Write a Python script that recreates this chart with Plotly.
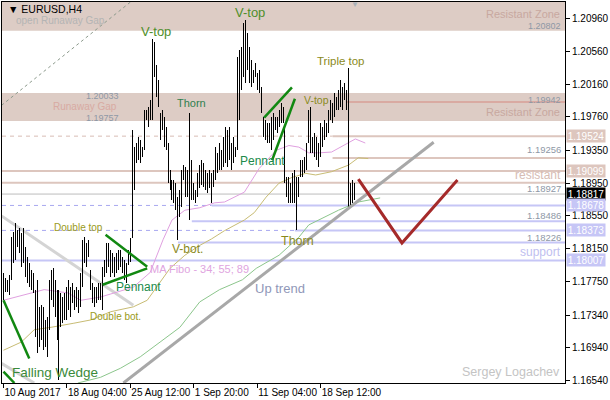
import plotly.graph_objects as go

# ---------------- data (EURUSD H4) ----------------
bar_high = [1.1785, 1.1779, 1.1777, 1.1783, 1.1829, 1.1835, 1.1846, 1.1838, 1.1840, 1.1834,
            1.1840, 1.1817, 1.1805, 1.1797, 1.1789, 1.1785, 1.1765, 1.1777, 1.1744, 1.1746,
            1.1744, 1.1728, 1.1732, 1.1777, 1.1789, 1.1791, 1.1777, 1.1765, 1.1765, 1.1761,
            1.1756, 1.1761, 1.1768, 1.1777, 1.1768, 1.1773, 1.1765, 1.1768, 1.1765, 1.1785,
            1.1826, 1.1829, 1.1822, 1.1826, 1.1789, 1.1773, 1.1768, 1.1768, 1.1773, 1.1773,
            1.1793, 1.1801, 1.1822, 1.1822, 1.1813, 1.1810, 1.1805, 1.1810, 1.1813, 1.1813,
            1.1805, 1.1801, 1.1797, 1.1813, 1.1828, 1.1960, 1.1939, 1.1944, 1.1951, 1.1948,
            1.1939, 1.1984, 1.1984, 1.1988, 1.1997, 1.2071, 1.2067, 1.2039, 1.2021, 1.1981,
            1.1984, 1.1976, 1.1964, 1.1944, 1.1911, 1.1899, 1.1899, 1.1895, 1.1878, 1.1887,
            1.1911, 1.1917, 1.1915, 1.1911, 1.1981, 1.1923, 1.1895, 1.1887, 1.1907, 1.1917,
            1.1923, 1.1920, 1.1911, 1.1907, 1.1911, 1.1907, 1.1911, 1.1939, 1.1932, 1.1944,
            1.1935, 1.1951, 1.1964, 1.1960, 1.1964, 1.1944, 1.1951, 1.1939, 1.2049, 1.2058,
            1.2061, 1.2091, 1.2094, 1.2078, 1.2061, 1.2045, 1.2033, 1.2042, 1.2029, 1.2033,
            1.2012, 1.1976, 1.1972, 1.1968, 1.1968, 1.1976, 1.1981, 1.1976, 1.1976, 1.1984,
            1.1993, 1.1988, 1.1964, 1.1902, 1.1902, 1.1895, 1.1907, 1.1911, 1.1902, 1.1902,
            1.1923, 1.1923, 1.1927, 1.1944, 1.1984, 1.1988, 1.1951, 1.1956, 1.1951, 1.1944,
            1.1968, 1.1964, 1.1972, 1.1968, 1.1984, 1.1997, 1.1993, 1.2005, 1.2000, 1.2009,
            1.2021, 1.2012, 1.2017, 1.2009, 1.2036, 1.1895, 1.1899, 1.1895]
bar_low = [1.1752, 1.1762, 1.1762, 1.1758, 1.1777, 1.1797, 1.1801, 1.1817, 1.1810, 1.1793,
           1.1797, 1.1780, 1.1773, 1.1768, 1.1765, 1.1761, 1.1707, 1.1688, 1.1695, 1.1703,
           1.1691, 1.1695, 1.1683, 1.1716, 1.1752, 1.1744, 1.1732, 1.1703, 1.1655, 1.1719,
           1.1724, 1.1728, 1.1728, 1.1740, 1.1732, 1.1749, 1.1740, 1.1744, 1.1736, 1.1744,
           1.1768, 1.1797, 1.1793, 1.1805, 1.1765, 1.1749, 1.1744, 1.1749, 1.1752, 1.1752,
           1.1740, 1.1780, 1.1785, 1.1793, 1.1780, 1.1785, 1.1780, 1.1785, 1.1789, 1.1793,
           1.1785, 1.1777, 1.1773, 1.1795, 1.1799, 1.1828, 1.1887, 1.1920, 1.1923, 1.1920,
           1.1927, 1.1935, 1.1972, 1.1964, 1.1972, 1.1972, 1.2025, 1.2000, 1.1988, 1.1948,
           1.1960, 1.1939, 1.1935, 1.1895, 1.1887, 1.1874, 1.1871, 1.1862, 1.1826, 1.1854,
           1.1866, 1.1899, 1.1878, 1.1878, 1.1850, 1.1874, 1.1874, 1.1871, 1.1878, 1.1889,
           1.1893, 1.1890, 1.1887, 1.1883, 1.1889, 1.1871, 1.1890, 1.1899, 1.1907, 1.1911,
           1.1911, 1.1915, 1.1920, 1.1915, 1.1923, 1.1911, 1.1920, 1.1927, 1.1935, 1.1972,
           1.2009, 1.2025, 1.2017, 1.2033, 1.2017, 1.2012, 1.2017, 1.2025, 1.2009, 1.2005,
           1.1981, 1.1951, 1.1948, 1.1944, 1.1944, 1.1935, 1.1948, 1.1960, 1.1956, 1.1964,
           1.1968, 1.1968, 1.1895, 1.1878, 1.1871, 1.1871, 1.1871, 1.1871, 1.1838, 1.1878,
           1.1902, 1.1902, 1.1907, 1.1911, 1.1944, 1.1932, 1.1932, 1.1927, 1.1923, 1.1915,
           1.1927, 1.1939, 1.1948, 1.1951, 1.1956, 1.1972, 1.1968, 1.1976, 1.1984, 1.1984,
           1.1988, 1.1984, 1.1997, 1.1984, 1.1866, 1.1866, 1.1871, 1.1874]

tick_bars = [0, 32, 64, 96, 128, 160]
tick_labels = ["10 Aug 2017", "18 Aug 04:00", "25 Aug 12:00", "1 Sep 20:00", "11 Sep 04:00", "18 Sep 12:00"]
price_ticks = [1.20960, 1.20560, 1.20160, 1.19760, 1.19350, 1.18950,
               1.18550, 1.18150, 1.17750, 1.17340, 1.16940, 1.16540]

# moving averages (MA Fibo 34; 55; 89)
ma34_bar = [0, 9, 20.5, 32.5, 39, 49, 57.5, 65.5, 74, 80.5, 85, 91.5, 99, 106.5, 111.5, 121.5,
            129, 137.5, 144, 149, 154, 159, 165.5, 171.5, 177.5, 182.5]
ma34_val = [1.1752, 1.1758, 1.1765, 1.1761, 1.1752, 1.1756, 1.1762, 1.1768, 1.1786, 1.1826, 1.1850,
            1.1862, 1.1865, 1.1871, 1.1872, 1.1884, 1.1913, 1.1935, 1.1941, 1.1939, 1.1932, 1.1932,
            1.1933, 1.1941, 1.1949, 1.1944]
ma55_bar = [0, 9, 15.5, 24, 35.5, 44, 54, 65.5, 72.5, 80.5, 84, 91.5, 99, 105, 111.5, 121.5,
            126.5, 132.5, 139, 145.5, 152.5, 157.5, 165.5, 174, 179, 184]
ma55_val = [1.1691, 1.1701, 1.1716, 1.1719, 1.1724, 1.1728, 1.1738, 1.1744, 1.1752, 1.1780, 1.1791,
            1.1807, 1.1819, 1.1827, 1.1837, 1.1850, 1.1859, 1.1878, 1.1895, 1.1902, 1.1907, 1.1905,
            1.1909, 1.1917, 1.1926, 1.1925]
ma89_bar = [37.5, 49, 59, 69, 79, 89, 99, 109, 120.5, 127.5, 139, 149, 154, 169, 179, 190]
ma89_val = [1.1651, 1.1658, 1.1669, 1.1683, 1.1701, 1.1719, 1.1750, 1.1765, 1.1777, 1.1791,
            1.1807, 1.1829, 1.1844, 1.1862, 1.1872, 1.1877]

# analyst objects (bar index, price)
uptrend_bar = [60.5, 217]
uptrend_val = [1.1651, 1.1945]
channel_bar = [-1, 65.5]
channel_val = [1.1855, 1.1746]
channel2_bar = [-1, 15.5]
channel2_val = [1.1675, 1.1651]
gapline_bar = [-1, 64.5]
gapline_val = [1.1990, 1.2117]
wedge1_bar = [0, 13]
wedge1_val = [1.1752, 1.1681]
wedge2_bar = [0, 5.5]
wedge2_val = [1.1665, 1.1651]
pen1a_bar = [51.5, 72.5]
pen1a_val = [1.1832, 1.1793]
pen1b_bar = [50, 72.5]
pen1b_val = [1.1771, 1.1791]
pen2a_bar = [131.5, 145.5]
pen2a_val = [1.1975, 1.2012]
pen2b_bar = [135.5, 147]
pen2b_val = [1.1923, 1.1998]
forecast_bar = [179, 201, 229]
forecast_val = [1.1900, 1.1822, 1.1899]

res_levels = [1.19524, 1.19256, 1.19099, 1.18955]
res_solid_from = [166, 166, -1, -1]
res_dashed = [True, False, False, False]
sup_levels = [1.18678, 1.18486, 1.18373, 1.18226, 1.18007]
sup_solid_from = [105, 95, 147, 88, -1]
sup_dashed = [True, False, True, False, False]
bid_price = 1.18817
gap_mid_level = 1.19942
gap_mid_from = 173
zone_top = [1.2081, 1.2117]
zone_gap = [1.1971, 1.2005]

box_levels = [1.19524, 1.19099, 1.18817, 1.18678, 1.18373, 1.18007]

# ---------------- figure ----------------
XR = [-0.75, 283.25]
YR = [1.16510, 1.21162]
W, H = 610, 400
L, R, T, B = 1, 41, 2, 17
PW, PH = W - L - R, H - T - B

ROSE = "#ddc6be"
LAV = "#c6c6f6"
BAND = "#ddccc5"
FONT = "Liberation Sans"


def pp(x, y):
    return dict(xref="paper", yref="paper", x=(x - L) / PW, y=(H - B - y) / PH)


fig = go.Figure()
shapes = []
for lo, hi in (zone_top, zone_gap):
    shapes.append(dict(type="rect", xref="x", yref="y", x0=XR[0], x1=XR[1], y0=lo, y1=hi,
                       fillcolor=BAND, line_width=0, layer="below"))
shapes.append(dict(type="line", xref="x", yref="y", x0=gap_mid_from, x1=XR[1], y0=gap_mid_level,
                   y1=gap_mid_level, line=dict(color="#d9aaa2", width=2), layer="below"))
for lev, s, d in zip(res_levels, res_solid_from, res_dashed):
    if d:
        shapes.append(dict(type="line", xref="x", yref="y", x0=XR[0], x1=s, y0=lev, y1=lev,
                           line=dict(color="#d8bcb4", width=1, dash="4px,4px"), layer="below"))
    shapes.append(dict(type="line", xref="x", yref="y", x0=max(s, XR[0]), x1=XR[1], y0=lev, y1=lev,
                       line=dict(color=ROSE, width=2), layer="below"))
for lev, s, d in zip(sup_levels, sup_solid_from, sup_dashed):
    if d:
        shapes.append(dict(type="line", xref="x", yref="y", x0=XR[0], x1=s, y0=lev, y1=lev,
                           line=dict(color="#a8a8f0", width=1, dash="4px,4px"), layer="below"))
    shapes.append(dict(type="line", xref="x", yref="y", x0=max(s, XR[0]), x1=XR[1], y0=lev, y1=lev,
                       line=dict(color=LAV, width=2), layer="below"))
shapes.append(dict(type="line", xref="x", yref="y", x0=XR[0], x1=XR[1], y0=bid_price, y1=bid_price,
                   line=dict(color="#bcbcbc", width=1), layer="below"))


def line(xs, ys, color, width, dash=None):
    fig.add_trace(go.Scatter(x=xs, y=ys, mode="lines", hoverinfo="skip", showlegend=False,
                             line=dict(color=color, width=width, dash=dash)))


line(gapline_bar, gapline_val, "#8c9a8c", 1, "3px,3px")
line(channel_bar, channel_val, "#d4d4d4", 3)
line(channel2_bar, channel2_val, "#d4d4d4", 3)

# MAs
line(ma89_bar, ma89_val, "#8cc68c", 1)
line(ma55_bar, ma55_val, "#c8bc74", 1)
line(ma34_bar, ma34_val, "#e0a0e0", 1)

# bars (high-low)
bx, by = [], []
for i, (h, l) in enumerate(zip(bar_high, bar_low)):
    bx += [i, i, None]
    by += [l, h, None]
fig.add_trace(go.Scatter(x=bx, y=by, mode="lines", line=dict(color="black", width=1),
                         hoverinfo="skip", showlegend=False))

line(uptrend_bar, uptrend_val, "#a8a8a8", 3)
for xs, ys in ((wedge1_bar, wedge1_val), (wedge2_bar, wedge2_val), (pen1a_bar, pen1a_val),
               (pen1b_bar, pen1b_val), (pen2a_bar, pen2a_val), (pen2b_bar, pen2b_val)):
    line(xs, ys, "#118811", 2.5)
line(forecast_bar, forecast_val, "#a52a2a", 3)

ann = []


def text(t, x, y, size, color, anchor="center"):
    d = pp(x, y)
    d.update(text=t, showarrow=False, xanchor=anchor, yanchor="middle",
             font=dict(family=FONT, size=size, color=color))
    ann.append(d)


GR = "#4f8f2a"
OL = "#8a8a1c"
GY = "#8e98a6"
ZN = "#c8a8a0"
text("▼ EURUSD,H4", 5, 9, 10.5, "black", "left")
text("open Runaway Gap", 13, 21, 10, "#b4b4b4", "left")
text("V-top", 156, 31, 13, GR)
text("V-top", 251, 12, 13, GR)
text("Thorn", 192, 103, 11, "#2f7f4f")
text("Triple top", 343, 61, 11.5, OL)
text("V-top", 318, 100, 10.5, OL)
text("Pennant", 264, 161, 12, "#208a4a")
text("Thorn", 299, 241, 12.5, OL)
text("V-bot.", 188, 249, 12, OL)
text("Double top", 78, 227, 10, "#9a9a20")
text("Pennant", 139, 287, 12, "#208a4a")
text("Double bot.", 116, 316, 10, "#9a9a20")
text("MA Fibo - 34; 55; 89", 148, 269, 11, "#e0a4e0", "left")
text("Up trend", 281, 288, 13, "#9097b8")
text("Falling Wedge", 54, 372, 13.5, "#3a8a3a")
text("Sergey Logachev", 566, 372, 12.5, "#c4c4c4", "right")
text("Resistant Zone", 566, 14, 11, ZN, "right")
text("1.20802", 567, 26, 9, GY, "right")
text("1.20033", 121, 96, 9, GY, "right")
text("Runaway Gap", 119, 107, 10, "#d8aaa2", "right")
text("1.19757", 121, 118, 9, GY, "right")
text("1.19942", 567, 100, 9, GY, "right")
text("Resistant Zone", 566, 112, 11, ZN, "right")
text("1.19256", 567, 149, 9.5, GY, "right")
text("resistant", 567, 175, 12, "#d6bcb4", "right")
text("1.18927", 567, 188, 9.5, GY, "right")
text("1.18486", 567, 215, 9.5, GY, "right")
text("1.18226", 567, 238, 9.5, GY, "right")
text("support", 567, 252, 12, "#c0c0f0", "right")
text("▼", 357, 4, 8, "#a8b0b8")

box_colors = [ROSE, ROSE, "black", LAV, LAV, LAV]
for v, c in zip(box_levels, box_colors):
    ann.append(dict(xref="paper", yref="y", x=1, y=v, xanchor="left", yanchor="middle", xshift=1,
                    text=f"{v:.5f}", showarrow=False, bgcolor=c, width=38, height=12, borderpad=0,
                    font=dict(family=FONT, size=10, color="white")))

fig.update_layout(
    width=W, height=H, margin=dict(l=L, r=R, t=T, b=B),
    paper_bgcolor="white", plot_bgcolor="white",
    shapes=shapes, annotations=ann, showlegend=False,
    xaxis=dict(range=XR, tickvals=tick_bars, ticktext=tick_labels, ticks="outside", ticklen=4,
               tickcolor="black", showgrid=False, zeroline=False, showline=True, mirror=True,
               linecolor="black", linewidth=1, ticklabelposition="outside right", tickangle=0,
               tickfont=dict(family=FONT, size=10, color="black")),
    yaxis=dict(range=YR, side="right", tickvals=price_ticks, ticktext=[f"{v:.5f}" for v in price_ticks],
               ticks="outside", ticklen=4, tickcolor="black", showgrid=False, zeroline=False,
               showline=True, mirror=True, linecolor="black", linewidth=1,
               tickfont=dict(family=FONT, size=10, color="black")),
)

post = ("document.body.style.margin='0';"
        "var tr=document.querySelectorAll('.scatterlayer .trace');"
        "if(tr.length>6){tr[6].querySelectorAll('path').forEach(function(p){p.style.shapeRendering='crispEdges';});}")
fig.write_html("out.html", post_script=post, config={"displayModeBar": False})
